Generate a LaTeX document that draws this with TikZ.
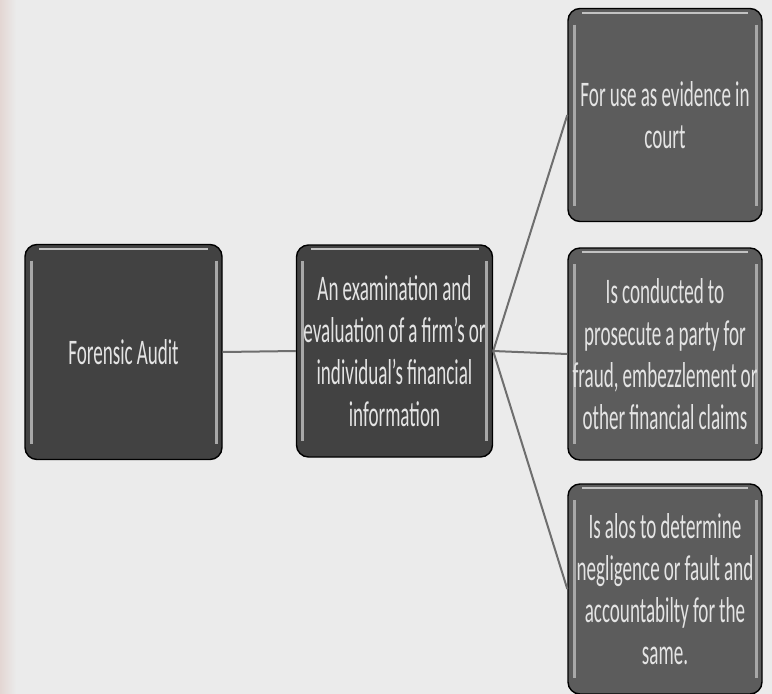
\documentclass[tikz,border=0pt]{standalone}
\usepackage{fontspec}
\setmainfont{Carlito}[FakeStretch=0.53,WordSpace=0.95]
\definecolor{PageGray}{HTML}{EBEBEB}
\definecolor{PageRose}{HTML}{E3D6D3}
\definecolor{DarkBox}{HTML}{424242}
\definecolor{MidBox}{HTML}{5C5C5C}
\definecolor{RimGray}{HTML}{A8A8A8}
\definecolor{LinkGray}{HTML}{6E6E6E}
\definecolor{LabelGray}{HTML}{E4E4E4}

\begin{document}
\begin{tikzpicture}[x=1pt,y=-1pt,
  font=\fontsize{36}{42}\selectfont,
  card/.style={draw=black,line width=1.4pt,rounded corners=12pt,
    fill=DarkBox,text=LabelGray,align=center,
    inner xsep=2pt,minimum width=196pt,minimum height=212pt,
    path picture={
      \draw[RimGray,line width=3pt]
        ([xshift=6pt,yshift=-16pt]path picture bounding box.north west)
        --([xshift=6pt,yshift=16pt]path picture bounding box.south west);
      \draw[RimGray,line width=3pt]
        ([xshift=-6pt,yshift=-16pt]path picture bounding box.north east)
        --([xshift=-6pt,yshift=16pt]path picture bounding box.south east);
      \draw[RimGray!70,line width=2pt]
        ([xshift=14pt,yshift=-4pt]path picture bounding box.north west)
        --([xshift=-14pt,yshift=-4pt]path picture bounding box.north east);}},
  leaf/.style={card,fill=MidBox,minimum width=194pt},
  link/.style={LinkGray,line width=2pt}]
  \path[use as bounding box,fill=PageGray] (0,0) rectangle (772,694);
  \shade[left color=PageRose,right color=PageGray] (0,0) rectangle (16,694);
  \node[card,minimum width=197pt,minimum height=215pt] (audit) at (123.5,352)
    {Forensic Audit};
  \node[card] (meaning) at (394.5,351)
    {An examination and\\evaluation of a firm's or\\individual's financial\\information};
  \node[leaf,minimum height=213pt] (court) at (665,115)
    {For use as evidence in\\court};
  \node[leaf] (prosecute) at (665,354)
    {Is conducted to\\prosecute a party for\\fraud, embezzlement or\\other financial claims};
  \node[leaf,minimum height=210pt] (fault) at (665,589)
    {Is alos to determine\\negligence or fault and\\accountabilty for the\\same.};
  \draw[link] (audit.east)--(meaning.west);
  \draw[link] (meaning.east)--(court.west);
  \draw[link] (meaning.east)--(prosecute.west);
  \draw[link] (meaning.east)--(fault.west);
\end{tikzpicture}
\end{document}
